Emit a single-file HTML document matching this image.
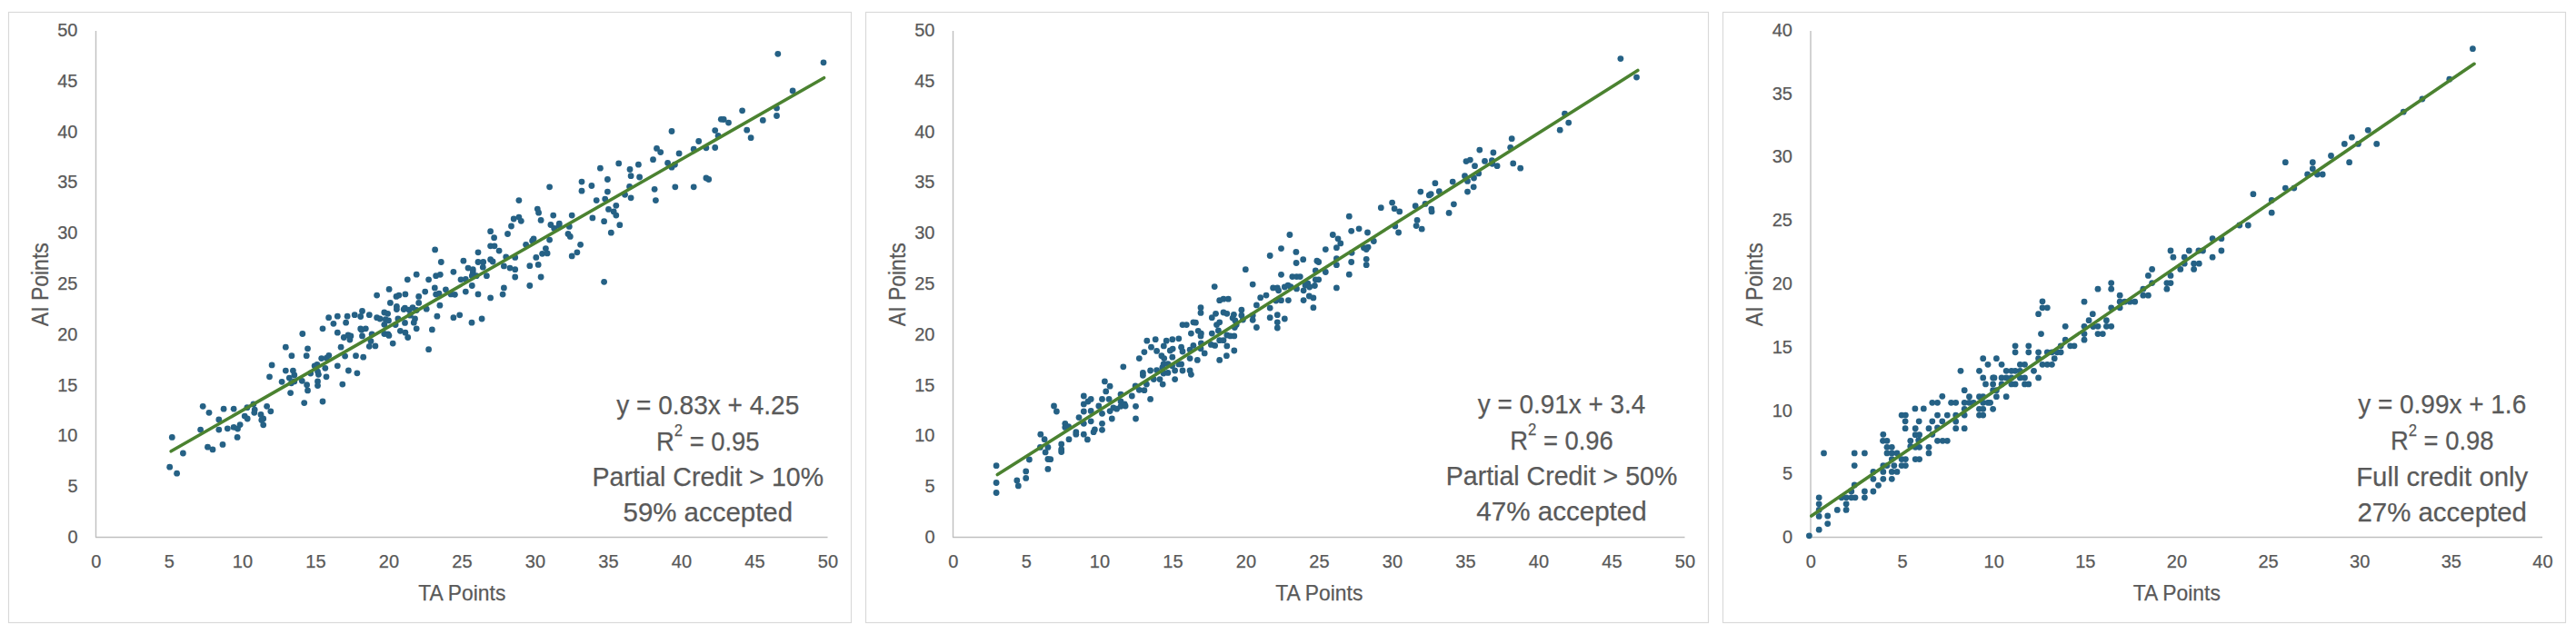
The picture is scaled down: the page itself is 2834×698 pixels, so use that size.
<!DOCTYPE html>
<html lang="en"><head><meta charset="utf-8"><title>AI vs TA Points</title>
<style>html,body{margin:0;padding:0;background:#fff}body{width:2834px;height:698px;overflow:hidden}svg{display:block}text{font-family:"Liberation Sans", sans-serif;fill:#595959;stroke:#595959;stroke-width:.25px}.tk{font-size:20px}.ax{font-size:24px}.ay{font-size:25px}.an{font-size:29.5px}</style></head><body>
<svg width="2834" height="698" viewBox="0 0 2834 698">
<rect width="2834" height="698" fill="#fff"/>
<g>
<rect x="9.5" y="13.5" width="927" height="672" fill="#fff" stroke="#d9d9d9" stroke-width="1.15"/>
<path d="M105.5 34 V591.5 H910.5" fill="none" stroke="#bfbfbf" stroke-width="1.4" stroke-linejoin="round"/>
<text class="tk" x="85.5" y="598" text-anchor="end">0</text>
<text class="tk" x="85.5" y="542.2" text-anchor="end">5</text>
<text class="tk" x="85.5" y="486.4" text-anchor="end">10</text>
<text class="tk" x="85.5" y="430.6" text-anchor="end">15</text>
<text class="tk" x="85.5" y="374.8" text-anchor="end">20</text>
<text class="tk" x="85.5" y="318.9" text-anchor="end">25</text>
<text class="tk" x="85.5" y="263.1" text-anchor="end">30</text>
<text class="tk" x="85.5" y="207.3" text-anchor="end">35</text>
<text class="tk" x="85.5" y="151.5" text-anchor="end">40</text>
<text class="tk" x="85.5" y="95.7" text-anchor="end">45</text>
<text class="tk" x="85.5" y="39.9" text-anchor="end">50</text>
<text class="tk" x="105.9" y="625" text-anchor="middle">0</text>
<text class="tk" x="186.4" y="625" text-anchor="middle">5</text>
<text class="tk" x="266.9" y="625" text-anchor="middle">10</text>
<text class="tk" x="347.4" y="625" text-anchor="middle">15</text>
<text class="tk" x="427.9" y="625" text-anchor="middle">20</text>
<text class="tk" x="508.4" y="625" text-anchor="middle">25</text>
<text class="tk" x="588.9" y="625" text-anchor="middle">30</text>
<text class="tk" x="669.4" y="625" text-anchor="middle">35</text>
<text class="tk" x="749.9" y="625" text-anchor="middle">40</text>
<text class="tk" x="830.4" y="625" text-anchor="middle">45</text>
<text class="tk" x="910.9" y="625" text-anchor="middle">50</text>
<text class="ax" x="508.3" y="661" text-anchor="middle" textLength="96" lengthAdjust="spacingAndGlyphs">TA Points</text>
<text class="ay" transform="translate(52.6 313.2) rotate(-90)" text-anchor="middle" textLength="92" lengthAdjust="spacingAndGlyphs">AI Points</text>
<g fill="#256185">
<circle cx="189.3" cy="481.4" r="3.4"/>
<circle cx="186.7" cy="514.2" r="3.4"/>
<circle cx="194.6" cy="521.2" r="3.4"/>
<circle cx="201.4" cy="499" r="3.4"/>
<circle cx="220.6" cy="473.1" r="3.4"/>
<circle cx="223.2" cy="447.3" r="3.4"/>
<circle cx="230" cy="454.3" r="3.4"/>
<circle cx="228.5" cy="492.2" r="3.4"/>
<circle cx="234" cy="494.9" r="3.4"/>
<circle cx="240.8" cy="461.9" r="3.4"/>
<circle cx="240.8" cy="473.1" r="3.4"/>
<circle cx="245" cy="489.4" r="3.4"/>
<circle cx="246.1" cy="450.2" r="3.4"/>
<circle cx="250.3" cy="471.8" r="3.4"/>
<circle cx="257.1" cy="450.2" r="3.4"/>
<circle cx="257.1" cy="470.4" r="3.4"/>
<circle cx="261.5" cy="472" r="3.4"/>
<circle cx="264.1" cy="467.6" r="3.4"/>
<circle cx="261.1" cy="481.4" r="3.4"/>
<circle cx="269.2" cy="458.1" r="3.4"/>
<circle cx="272.2" cy="461" r="3.4"/>
<circle cx="271.9" cy="448.7" r="3.4"/>
<circle cx="278.9" cy="444.9" r="3.4"/>
<circle cx="280.2" cy="451.1" r="3.4"/>
<circle cx="279.8" cy="454.3" r="3.4"/>
<circle cx="287" cy="456.4" r="3.4"/>
<circle cx="289.7" cy="461" r="3.4"/>
<circle cx="287.8" cy="462.5" r="3.4"/>
<circle cx="289.7" cy="467.8" r="3.4"/>
<circle cx="293.6" cy="447.3" r="3.4"/>
<circle cx="297.8" cy="452.8" r="3.4"/>
<circle cx="296.5" cy="414.8" r="3.4"/>
<circle cx="299.1" cy="401.9" r="3.4"/>
<circle cx="310.1" cy="420.3" r="3.4"/>
<circle cx="314.3" cy="408.1" r="3.4"/>
<circle cx="322.4" cy="408.1" r="3.4"/>
<circle cx="323.8" cy="412.9" r="3.4"/>
<circle cx="318.3" cy="416.1" r="3.4"/>
<circle cx="320.5" cy="421.8" r="3.4"/>
<circle cx="323.8" cy="419.9" r="3.4"/>
<circle cx="319.6" cy="432.6" r="3.4"/>
<circle cx="332.3" cy="419.3" r="3.4"/>
<circle cx="337.6" cy="423.7" r="3.4"/>
<circle cx="338.5" cy="429.9" r="3.4"/>
<circle cx="334.7" cy="443.6" r="3.4"/>
<circle cx="341.7" cy="411" r="3.4"/>
<circle cx="346.1" cy="402.8" r="3.4"/>
<circle cx="348.9" cy="401.5" r="3.4"/>
<circle cx="349.5" cy="409.1" r="3.4"/>
<circle cx="350.4" cy="412.3" r="3.4"/>
<circle cx="349.5" cy="419.9" r="3.4"/>
<circle cx="349.5" cy="424.6" r="3.4"/>
<circle cx="357.8" cy="405.3" r="3.4"/>
<circle cx="359" cy="414.8" r="3.4"/>
<circle cx="355" cy="442" r="3.4"/>
<circle cx="371.3" cy="402.8" r="3.4"/>
<circle cx="376.8" cy="423.1" r="3.4"/>
<circle cx="383.4" cy="408" r="3.4"/>
<circle cx="392.9" cy="410.8" r="3.4"/>
<circle cx="314.3" cy="382.2" r="3.4"/>
<circle cx="320.9" cy="391.7" r="3.4"/>
<circle cx="332.8" cy="367.5" r="3.4"/>
<circle cx="338.5" cy="383.8" r="3.4"/>
<circle cx="337.2" cy="391.7" r="3.4"/>
<circle cx="353.7" cy="394.6" r="3.4"/>
<circle cx="355" cy="361.8" r="3.4"/>
<circle cx="361.6" cy="349.7" r="3.4"/>
<circle cx="361.8" cy="391.3" r="3.4"/>
<circle cx="359.3" cy="394.2" r="3.4"/>
<circle cx="366.9" cy="356.3" r="3.4"/>
<circle cx="371.3" cy="348.2" r="3.4"/>
<circle cx="371.3" cy="366.2" r="3.4"/>
<circle cx="375.1" cy="382.2" r="3.4"/>
<circle cx="378.3" cy="371.5" r="3.4"/>
<circle cx="379.6" cy="392.1" r="3.4"/>
<circle cx="380.6" cy="355.2" r="3.4"/>
<circle cx="382.1" cy="348.2" r="3.4"/>
<circle cx="383" cy="369" r="3.4"/>
<circle cx="385.9" cy="369.9" r="3.4"/>
<circle cx="384.9" cy="374.1" r="3.4"/>
<circle cx="390.2" cy="346.7" r="3.4"/>
<circle cx="391.5" cy="391.7" r="3.4"/>
<circle cx="396.7" cy="348.5" r="3.4"/>
<circle cx="398.5" cy="342.5" r="3.4"/>
<circle cx="396.7" cy="362" r="3.4"/>
<circle cx="397.8" cy="363.3" r="3.4"/>
<circle cx="402.3" cy="361.8" r="3.4"/>
<circle cx="398.5" cy="369.9" r="3.4"/>
<circle cx="399.7" cy="393.2" r="3.4"/>
<circle cx="406.3" cy="346.7" r="3.4"/>
<circle cx="409.1" cy="368" r="3.4"/>
<circle cx="408" cy="375.6" r="3.4"/>
<circle cx="406.3" cy="381.3" r="3.4"/>
<circle cx="412.9" cy="380.9" r="3.4"/>
<circle cx="414.6" cy="325.1" r="3.4"/>
<circle cx="414.6" cy="349.7" r="3.4"/>
<circle cx="418" cy="351" r="3.4"/>
<circle cx="422.8" cy="344" r="3.4"/>
<circle cx="426.6" cy="345.3" r="3.4"/>
<circle cx="424.1" cy="351.6" r="3.4"/>
<circle cx="427.5" cy="352.9" r="3.4"/>
<circle cx="422.8" cy="357.3" r="3.4"/>
<circle cx="422.8" cy="367.5" r="3.4"/>
<circle cx="426.9" cy="368" r="3.4"/>
<circle cx="427.9" cy="369.4" r="3.4"/>
<circle cx="428.1" cy="318.4" r="3.4"/>
<circle cx="429.4" cy="333.4" r="3.4"/>
<circle cx="432.2" cy="378.1" r="3.4"/>
<circle cx="436" cy="326.4" r="3.4"/>
<circle cx="438.9" cy="325.1" r="3.4"/>
<circle cx="436.4" cy="337.4" r="3.4"/>
<circle cx="436.4" cy="340.6" r="3.4"/>
<circle cx="437.9" cy="351" r="3.4"/>
<circle cx="435.1" cy="357.6" r="3.4"/>
<circle cx="440.4" cy="364.3" r="3.4"/>
<circle cx="445.9" cy="323.9" r="3.4"/>
<circle cx="445.5" cy="339.1" r="3.4"/>
<circle cx="444.2" cy="340.6" r="3.4"/>
<circle cx="445.5" cy="355.4" r="3.4"/>
<circle cx="445.9" cy="366.2" r="3.4"/>
<circle cx="448.7" cy="371.5" r="3.4"/>
<circle cx="448.3" cy="307.8" r="3.4"/>
<circle cx="450.2" cy="341.2" r="3.4"/>
<circle cx="454" cy="338.7" r="3.4"/>
<circle cx="451.2" cy="347.2" r="3.4"/>
<circle cx="456.5" cy="351" r="3.4"/>
<circle cx="455.3" cy="355.2" r="3.4"/>
<circle cx="458.2" cy="361.8" r="3.4"/>
<circle cx="458.2" cy="302.2" r="3.4"/>
<circle cx="460.7" cy="326.4" r="3.4"/>
<circle cx="460.7" cy="333.4" r="3.4"/>
<circle cx="458.2" cy="341.5" r="3.4"/>
<circle cx="467.7" cy="321.1" r="3.4"/>
<circle cx="469.2" cy="340.2" r="3.4"/>
<circle cx="471.6" cy="307.8" r="3.4"/>
<circle cx="471.6" cy="384.7" r="3.4"/>
<circle cx="475.4" cy="362.9" r="3.4"/>
<circle cx="478.3" cy="316.9" r="3.4"/>
<circle cx="479.6" cy="303.7" r="3.4"/>
<circle cx="484.3" cy="302.3" r="3.4"/>
<circle cx="485.3" cy="288.5" r="3.4"/>
<circle cx="479.6" cy="324.1" r="3.4"/>
<circle cx="483" cy="323.2" r="3.4"/>
<circle cx="483.9" cy="336.2" r="3.4"/>
<circle cx="480.9" cy="348.2" r="3.4"/>
<circle cx="490.4" cy="318.8" r="3.4"/>
<circle cx="498.9" cy="299.3" r="3.4"/>
<circle cx="496.1" cy="323.9" r="3.4"/>
<circle cx="500.4" cy="324.3" r="3.4"/>
<circle cx="498.9" cy="349.7" r="3.4"/>
<circle cx="505.7" cy="346.8" r="3.4"/>
<circle cx="507" cy="307.8" r="3.4"/>
<circle cx="512.3" cy="307.5" r="3.4"/>
<circle cx="512.3" cy="321.1" r="3.4"/>
<circle cx="509.9" cy="287.2" r="3.4"/>
<circle cx="515" cy="295.1" r="3.4"/>
<circle cx="520.3" cy="296.7" r="3.4"/>
<circle cx="520.3" cy="299.9" r="3.4"/>
<circle cx="519.3" cy="303.7" r="3.4"/>
<circle cx="524.1" cy="303.7" r="3.4"/>
<circle cx="519.3" cy="314.5" r="3.4"/>
<circle cx="519" cy="355.2" r="3.4"/>
<circle cx="526" cy="288.5" r="3.4"/>
<circle cx="526" cy="323.9" r="3.4"/>
<circle cx="531.7" cy="288.5" r="3.4"/>
<circle cx="531.3" cy="294.2" r="3.4"/>
<circle cx="530.1" cy="351" r="3.4"/>
<circle cx="535.4" cy="303.7" r="3.4"/>
<circle cx="539.6" cy="285.7" r="3.4"/>
<circle cx="542.1" cy="288" r="3.4"/>
<circle cx="539.6" cy="327.9" r="3.4"/>
<circle cx="554.4" cy="292.9" r="3.4"/>
<circle cx="554.4" cy="316.9" r="3.4"/>
<circle cx="553.1" cy="324.1" r="3.4"/>
<circle cx="556.7" cy="282.8" r="3.4"/>
<circle cx="561" cy="295.1" r="3.4"/>
<circle cx="566.7" cy="283.4" r="3.4"/>
<circle cx="566.7" cy="296.7" r="3.4"/>
<circle cx="566.7" cy="305" r="3.4"/>
<circle cx="582.8" cy="292.7" r="3.4"/>
<circle cx="582.8" cy="314.5" r="3.4"/>
<circle cx="589.8" cy="283.4" r="3.4"/>
<circle cx="592.2" cy="291.4" r="3.4"/>
<circle cx="595.1" cy="305" r="3.4"/>
<circle cx="629.2" cy="281.9" r="3.4"/>
<circle cx="526" cy="277.8" r="3.4"/>
<circle cx="539.6" cy="254.7" r="3.4"/>
<circle cx="543.6" cy="261.7" r="3.4"/>
<circle cx="539.6" cy="270.8" r="3.4"/>
<circle cx="544" cy="270.8" r="3.4"/>
<circle cx="549.1" cy="276.1" r="3.4"/>
<circle cx="558.5" cy="257.5" r="3.4"/>
<circle cx="562.5" cy="249" r="3.4"/>
<circle cx="565.2" cy="241" r="3.4"/>
<circle cx="570.9" cy="239.1" r="3.4"/>
<circle cx="573.3" cy="243.3" r="3.4"/>
<circle cx="570.9" cy="220.6" r="3.4"/>
<circle cx="578.6" cy="269.3" r="3.4"/>
<circle cx="585.6" cy="265.1" r="3.4"/>
<circle cx="587.1" cy="262.8" r="3.4"/>
<circle cx="591.3" cy="230.1" r="3.4"/>
<circle cx="592.6" cy="234.2" r="3.4"/>
<circle cx="595.1" cy="242.4" r="3.4"/>
<circle cx="600.4" cy="273.6" r="3.4"/>
<circle cx="596.6" cy="279.3" r="3.4"/>
<circle cx="602.1" cy="278.9" r="3.4"/>
<circle cx="604.6" cy="205.8" r="3.4"/>
<circle cx="604.6" cy="264.1" r="3.4"/>
<circle cx="605.9" cy="247.5" r="3.4"/>
<circle cx="608.7" cy="237.1" r="3.4"/>
<circle cx="609.7" cy="251.5" r="3.4"/>
<circle cx="615.3" cy="246.2" r="3.4"/>
<circle cx="615" cy="248.6" r="3.4"/>
<circle cx="625" cy="257.5" r="3.4"/>
<circle cx="627.3" cy="260.4" r="3.4"/>
<circle cx="626.3" cy="249.4" r="3.4"/>
<circle cx="629.2" cy="237.1" r="3.4"/>
<circle cx="634.9" cy="277.8" r="3.4"/>
<circle cx="638.6" cy="269.3" r="3.4"/>
<circle cx="640" cy="200.1" r="3.4"/>
<circle cx="640" cy="210.2" r="3.4"/>
<circle cx="650.9" cy="204.5" r="3.4"/>
<circle cx="651.9" cy="239.9" r="3.4"/>
<circle cx="656.2" cy="220.6" r="3.4"/>
<circle cx="660.4" cy="185.2" r="3.4"/>
<circle cx="664.6" cy="243.7" r="3.4"/>
<circle cx="665.7" cy="219.1" r="3.4"/>
<circle cx="668.4" cy="197.5" r="3.4"/>
<circle cx="668.4" cy="211.1" r="3.4"/>
<circle cx="669.5" cy="230.4" r="3.4"/>
<circle cx="672.3" cy="256.2" r="3.4"/>
<circle cx="675.2" cy="232.9" r="3.4"/>
<circle cx="677.8" cy="226.3" r="3.4"/>
<circle cx="677.8" cy="237.1" r="3.4"/>
<circle cx="680.7" cy="179.9" r="3.4"/>
<circle cx="681.8" cy="247.7" r="3.4"/>
<circle cx="687.5" cy="214.3" r="3.4"/>
<circle cx="693" cy="186.5" r="3.4"/>
<circle cx="694.1" cy="193.7" r="3.4"/>
<circle cx="692.6" cy="205.4" r="3.4"/>
<circle cx="694.1" cy="217.8" r="3.4"/>
<circle cx="702.4" cy="181.2" r="3.4"/>
<circle cx="703.6" cy="195" r="3.4"/>
<circle cx="718.5" cy="175.7" r="3.4"/>
<circle cx="720.1" cy="208.3" r="3.4"/>
<circle cx="721.4" cy="220.6" r="3.4"/>
<circle cx="722.5" cy="163.4" r="3.4"/>
<circle cx="726.7" cy="167.6" r="3.4"/>
<circle cx="734.6" cy="179.5" r="3.4"/>
<circle cx="739" cy="184.2" r="3.4"/>
<circle cx="742.4" cy="181.2" r="3.4"/>
<circle cx="742.8" cy="205.8" r="3.4"/>
<circle cx="747.1" cy="168.9" r="3.4"/>
<circle cx="763.2" cy="164.2" r="3.4"/>
<circle cx="763.2" cy="205.8" r="3.4"/>
<circle cx="776.9" cy="162.8" r="3.4"/>
<circle cx="776.9" cy="196" r="3.4"/>
<circle cx="779.7" cy="197.5" r="3.4"/>
<circle cx="786.7" cy="162.5" r="3.4"/>
<circle cx="739" cy="144.5" r="3.4"/>
<circle cx="768.7" cy="155.5" r="3.4"/>
<circle cx="786.7" cy="143.6" r="3.4"/>
<circle cx="790.1" cy="149.4" r="3.4"/>
<circle cx="793.3" cy="131.3" r="3.4"/>
<circle cx="796.2" cy="131.5" r="3.4"/>
<circle cx="801.5" cy="135.1" r="3.4"/>
<circle cx="855.8" cy="59.3" r="3.4"/>
<circle cx="906" cy="68.8" r="3.4"/>
<circle cx="872.1" cy="100" r="3.4"/>
<circle cx="854.5" cy="119.1" r="3.4"/>
<circle cx="854.5" cy="127.5" r="3.4"/>
<circle cx="816.6" cy="121.8" r="3.4"/>
<circle cx="839.3" cy="132.4" r="3.4"/>
<circle cx="821.7" cy="143.2" r="3.4"/>
<circle cx="826.1" cy="151.7" r="3.4"/>
<circle cx="664.6" cy="310.3" r="3.4"/>
<circle cx="478.6" cy="274.9" r="3.4"/>
</g>
<line x1="188.2" y1="496.8" x2="906.5" y2="85.7" stroke="#4b8230" stroke-width="3.6" stroke-linecap="round"/>
<text class="an" x="778.8" y="455.7" text-anchor="middle" textLength="201" lengthAdjust="spacingAndGlyphs">y = 0.83x + 4.25</text>
<text class="an" x="778.8" y="495.7" text-anchor="middle" textLength="113.5" lengthAdjust="spacingAndGlyphs">R<tspan font-size="18" dy="-15.5">2</tspan><tspan dy="15.5"> = 0.95</tspan></text>
<text class="an" x="778.8" y="534.8" text-anchor="middle" textLength="254.5" lengthAdjust="spacingAndGlyphs">Partial Credit &gt; 10%</text>
<text class="an" x="778.8" y="573.9" text-anchor="middle" textLength="186.5" lengthAdjust="spacingAndGlyphs">59% accepted</text>
</g>
<g>
<rect x="952.5" y="13.5" width="927" height="672" fill="#fff" stroke="#d9d9d9" stroke-width="1.15"/>
<path d="M1048.5 34 V591.5 H1853.5" fill="none" stroke="#bfbfbf" stroke-width="1.4" stroke-linejoin="round"/>
<text class="tk" x="1028.5" y="598" text-anchor="end">0</text>
<text class="tk" x="1028.5" y="542.2" text-anchor="end">5</text>
<text class="tk" x="1028.5" y="486.4" text-anchor="end">10</text>
<text class="tk" x="1028.5" y="430.6" text-anchor="end">15</text>
<text class="tk" x="1028.5" y="374.8" text-anchor="end">20</text>
<text class="tk" x="1028.5" y="318.9" text-anchor="end">25</text>
<text class="tk" x="1028.5" y="263.1" text-anchor="end">30</text>
<text class="tk" x="1028.5" y="207.3" text-anchor="end">35</text>
<text class="tk" x="1028.5" y="151.5" text-anchor="end">40</text>
<text class="tk" x="1028.5" y="95.7" text-anchor="end">45</text>
<text class="tk" x="1028.5" y="39.9" text-anchor="end">50</text>
<text class="tk" x="1048.9" y="625" text-anchor="middle">0</text>
<text class="tk" x="1129.4" y="625" text-anchor="middle">5</text>
<text class="tk" x="1209.9" y="625" text-anchor="middle">10</text>
<text class="tk" x="1290.4" y="625" text-anchor="middle">15</text>
<text class="tk" x="1370.9" y="625" text-anchor="middle">20</text>
<text class="tk" x="1451.4" y="625" text-anchor="middle">25</text>
<text class="tk" x="1531.9" y="625" text-anchor="middle">30</text>
<text class="tk" x="1612.4" y="625" text-anchor="middle">35</text>
<text class="tk" x="1692.9" y="625" text-anchor="middle">40</text>
<text class="tk" x="1773.4" y="625" text-anchor="middle">45</text>
<text class="tk" x="1853.9" y="625" text-anchor="middle">50</text>
<text class="ax" x="1451.3" y="661" text-anchor="middle" textLength="96" lengthAdjust="spacingAndGlyphs">TA Points</text>
<text class="ay" transform="translate(995.6 313.2) rotate(-90)" text-anchor="middle" textLength="92" lengthAdjust="spacingAndGlyphs">AI Points</text>
<g fill="#256185">
<circle cx="1096.1" cy="512.7" r="3.4"/>
<circle cx="1128.7" cy="518.9" r="3.4"/>
<circle cx="1132.4" cy="506" r="3.4"/>
<circle cx="1144.8" cy="478.2" r="3.4"/>
<circle cx="1149.1" cy="483.7" r="3.4"/>
<circle cx="1144.4" cy="492.4" r="3.4"/>
<circle cx="1152.9" cy="492.4" r="3.4"/>
<circle cx="1150.1" cy="497.9" r="3.4"/>
<circle cx="1152.9" cy="505.5" r="3.4"/>
<circle cx="1155.7" cy="505.7" r="3.4"/>
<circle cx="1152.9" cy="516.4" r="3.4"/>
<circle cx="1159.5" cy="447" r="3.4"/>
<circle cx="1162.4" cy="453" r="3.4"/>
<circle cx="1167.7" cy="489" r="3.4"/>
<circle cx="1167.7" cy="494.7" r="3.4"/>
<circle cx="1167.7" cy="497.5" r="3.4"/>
<circle cx="1171.8" cy="466.3" r="3.4"/>
<circle cx="1171.8" cy="470.4" r="3.4"/>
<circle cx="1175.6" cy="469.7" r="3.4"/>
<circle cx="1176" cy="483.7" r="3.4"/>
<circle cx="1183.8" cy="475.7" r="3.4"/>
<circle cx="1183.8" cy="478.2" r="3.4"/>
<circle cx="1187" cy="459.6" r="3.4"/>
<circle cx="1192.3" cy="436" r="3.4"/>
<circle cx="1192.3" cy="444.9" r="3.4"/>
<circle cx="1192.3" cy="453" r="3.4"/>
<circle cx="1192.3" cy="466.3" r="3.4"/>
<circle cx="1192.3" cy="478.2" r="3.4"/>
<circle cx="1196.4" cy="483.9" r="3.4"/>
<circle cx="1197" cy="442" r="3.4"/>
<circle cx="1200.2" cy="439.4" r="3.4"/>
<circle cx="1200.2" cy="452.4" r="3.4"/>
<circle cx="1200.2" cy="463.8" r="3.4"/>
<circle cx="1204.4" cy="472.9" r="3.4"/>
<circle cx="1203.1" cy="475.7" r="3.4"/>
<circle cx="1208.8" cy="447" r="3.4"/>
<circle cx="1212.5" cy="439.4" r="3.4"/>
<circle cx="1212.5" cy="455.3" r="3.4"/>
<circle cx="1212.5" cy="466.3" r="3.4"/>
<circle cx="1212.5" cy="473.3" r="3.4"/>
<circle cx="1215.4" cy="419.9" r="3.4"/>
<circle cx="1216.7" cy="430.9" r="3.4"/>
<circle cx="1221.1" cy="425.2" r="3.4"/>
<circle cx="1220.1" cy="439.4" r="3.4"/>
<circle cx="1221.1" cy="452.6" r="3.4"/>
<circle cx="1223.3" cy="461" r="3.4"/>
<circle cx="1224.9" cy="448.9" r="3.4"/>
<circle cx="1228.6" cy="450.2" r="3.4"/>
<circle cx="1233" cy="434.1" r="3.4"/>
<circle cx="1233" cy="442" r="3.4"/>
<circle cx="1233" cy="447.3" r="3.4"/>
<circle cx="1237.2" cy="444.9" r="3.4"/>
<circle cx="1235.8" cy="403.8" r="3.4"/>
<circle cx="1238.1" cy="447" r="3.4"/>
<circle cx="1096.1" cy="531.5" r="3.4"/>
<circle cx="1096.1" cy="542.5" r="3.4"/>
<circle cx="1118.8" cy="528.9" r="3.4"/>
<circle cx="1120.3" cy="534.9" r="3.4"/>
<circle cx="1128.7" cy="526.4" r="3.4"/>
<circle cx="1245.3" cy="436" r="3.4"/>
<circle cx="1249.5" cy="447.3" r="3.4"/>
<circle cx="1249.5" cy="461" r="3.4"/>
<circle cx="1249.1" cy="425" r="3.4"/>
<circle cx="1253.3" cy="429.3" r="3.4"/>
<circle cx="1258.9" cy="429.7" r="3.4"/>
<circle cx="1257.4" cy="410.4" r="3.4"/>
<circle cx="1257.4" cy="413.3" r="3.4"/>
<circle cx="1261.4" cy="423.1" r="3.4"/>
<circle cx="1265.6" cy="439.4" r="3.4"/>
<circle cx="1265.6" cy="408" r="3.4"/>
<circle cx="1269.3" cy="417.6" r="3.4"/>
<circle cx="1272.6" cy="407.6" r="3.4"/>
<circle cx="1276" cy="417.6" r="3.4"/>
<circle cx="1279.2" cy="423.1" r="3.4"/>
<circle cx="1278.8" cy="404.7" r="3.4"/>
<circle cx="1280.1" cy="411" r="3.4"/>
<circle cx="1284.9" cy="410.4" r="3.4"/>
<circle cx="1280.1" cy="400.9" r="3.4"/>
<circle cx="1284.9" cy="400.6" r="3.4"/>
<circle cx="1289.6" cy="402.8" r="3.4"/>
<circle cx="1292.6" cy="408" r="3.4"/>
<circle cx="1292.6" cy="417.6" r="3.4"/>
<circle cx="1296.8" cy="400.9" r="3.4"/>
<circle cx="1299.6" cy="400.9" r="3.4"/>
<circle cx="1301" cy="408" r="3.4"/>
<circle cx="1309.1" cy="408" r="3.4"/>
<circle cx="1310.4" cy="412.3" r="3.4"/>
<circle cx="1253.3" cy="394.6" r="3.4"/>
<circle cx="1258.9" cy="387.6" r="3.4"/>
<circle cx="1261.8" cy="375.2" r="3.4"/>
<circle cx="1266.5" cy="382.2" r="3.4"/>
<circle cx="1271.2" cy="373.7" r="3.4"/>
<circle cx="1272.6" cy="386.4" r="3.4"/>
<circle cx="1277.9" cy="391.7" r="3.4"/>
<circle cx="1280.7" cy="394.6" r="3.4"/>
<circle cx="1280.3" cy="380.9" r="3.4"/>
<circle cx="1283.2" cy="375.2" r="3.4"/>
<circle cx="1287.3" cy="386" r="3.4"/>
<circle cx="1290.2" cy="384.1" r="3.4"/>
<circle cx="1289.8" cy="373.7" r="3.4"/>
<circle cx="1289.8" cy="393.2" r="3.4"/>
<circle cx="1296.8" cy="372.8" r="3.4"/>
<circle cx="1299.6" cy="382.2" r="3.4"/>
<circle cx="1301" cy="387" r="3.4"/>
<circle cx="1301" cy="357.6" r="3.4"/>
<circle cx="1305.3" cy="357.6" r="3.4"/>
<circle cx="1309.1" cy="385.1" r="3.4"/>
<circle cx="1309.1" cy="394.6" r="3.4"/>
<circle cx="1310.4" cy="367.1" r="3.4"/>
<circle cx="1312.9" cy="354.8" r="3.4"/>
<circle cx="1315.4" cy="355.2" r="3.4"/>
<circle cx="1312.9" cy="380.4" r="3.4"/>
<circle cx="1317.3" cy="396.4" r="3.4"/>
<circle cx="1318.2" cy="364.3" r="3.4"/>
<circle cx="1321.4" cy="367.1" r="3.4"/>
<circle cx="1321" cy="369.9" r="3.4"/>
<circle cx="1321.4" cy="377.9" r="3.4"/>
<circle cx="1321" cy="383.8" r="3.4"/>
<circle cx="1325.2" cy="388.9" r="3.4"/>
<circle cx="1321" cy="338.7" r="3.4"/>
<circle cx="1321" cy="344.4" r="3.4"/>
<circle cx="1333.3" cy="349.7" r="3.4"/>
<circle cx="1333.3" cy="367.1" r="3.4"/>
<circle cx="1332.4" cy="379.4" r="3.4"/>
<circle cx="1336.2" cy="315.6" r="3.4"/>
<circle cx="1337.5" cy="345.3" r="3.4"/>
<circle cx="1336.6" cy="380.4" r="3.4"/>
<circle cx="1338.5" cy="357.6" r="3.4"/>
<circle cx="1341.7" cy="354.8" r="3.4"/>
<circle cx="1340.4" cy="363.9" r="3.4"/>
<circle cx="1341.7" cy="330.7" r="3.4"/>
<circle cx="1346" cy="329.2" r="3.4"/>
<circle cx="1351.3" cy="329.2" r="3.4"/>
<circle cx="1341.7" cy="374.7" r="3.4"/>
<circle cx="1346" cy="374.7" r="3.4"/>
<circle cx="1341.7" cy="396.4" r="3.4"/>
<circle cx="1346" cy="344" r="3.4"/>
<circle cx="1349.8" cy="345.3" r="3.4"/>
<circle cx="1349.8" cy="369" r="3.4"/>
<circle cx="1349.8" cy="380.9" r="3.4"/>
<circle cx="1349.4" cy="391.7" r="3.4"/>
<circle cx="1353.6" cy="369.9" r="3.4"/>
<circle cx="1357.8" cy="369.9" r="3.4"/>
<circle cx="1357.8" cy="386" r="3.4"/>
<circle cx="1357.4" cy="346.3" r="3.4"/>
<circle cx="1356.1" cy="350.1" r="3.4"/>
<circle cx="1358.9" cy="352.9" r="3.4"/>
<circle cx="1360.2" cy="357.6" r="3.4"/>
<circle cx="1358.3" cy="360.5" r="3.4"/>
<circle cx="1365.9" cy="341.2" r="3.4"/>
<circle cx="1365.9" cy="347.2" r="3.4"/>
<circle cx="1367.4" cy="352" r="3.4"/>
<circle cx="1370.3" cy="296.7" r="3.4"/>
<circle cx="1378.2" cy="313.1" r="3.4"/>
<circle cx="1378.2" cy="347.2" r="3.4"/>
<circle cx="1378.2" cy="352.3" r="3.4"/>
<circle cx="1382.4" cy="360.5" r="3.4"/>
<circle cx="1382.4" cy="335.9" r="3.4"/>
<circle cx="1386.7" cy="327.7" r="3.4"/>
<circle cx="1393" cy="325.1" r="3.4"/>
<circle cx="1397.2" cy="339.1" r="3.4"/>
<circle cx="1397.2" cy="349.7" r="3.4"/>
<circle cx="1397.2" cy="281.5" r="3.4"/>
<circle cx="1400.6" cy="316.9" r="3.4"/>
<circle cx="1405.3" cy="316.9" r="3.4"/>
<circle cx="1406.6" cy="319.8" r="3.4"/>
<circle cx="1403.8" cy="331.1" r="3.4"/>
<circle cx="1409.5" cy="330.7" r="3.4"/>
<circle cx="1405.3" cy="346.7" r="3.4"/>
<circle cx="1405.3" cy="354.8" r="3.4"/>
<circle cx="1405.3" cy="361" r="3.4"/>
<circle cx="1413.3" cy="351" r="3.4"/>
<circle cx="1409.5" cy="302.3" r="3.4"/>
<circle cx="1413.3" cy="316" r="3.4"/>
<circle cx="1417" cy="314.1" r="3.4"/>
<circle cx="1419.9" cy="315.6" r="3.4"/>
<circle cx="1417.4" cy="330.6" r="3.4"/>
<circle cx="1421.8" cy="304.6" r="3.4"/>
<circle cx="1426.5" cy="304.6" r="3.4"/>
<circle cx="1430.3" cy="304.6" r="3.4"/>
<circle cx="1426.1" cy="289.5" r="3.4"/>
<circle cx="1426.5" cy="317.9" r="3.4"/>
<circle cx="1433.7" cy="285.7" r="3.4"/>
<circle cx="1434.1" cy="319.8" r="3.4"/>
<circle cx="1436" cy="314.1" r="3.4"/>
<circle cx="1438.8" cy="312.2" r="3.4"/>
<circle cx="1434.1" cy="330.6" r="3.4"/>
<circle cx="1440.7" cy="316" r="3.4"/>
<circle cx="1440.3" cy="326" r="3.4"/>
<circle cx="1444.9" cy="327.9" r="3.4"/>
<circle cx="1444.9" cy="338.7" r="3.4"/>
<circle cx="1446.4" cy="314.5" r="3.4"/>
<circle cx="1447.3" cy="298" r="3.4"/>
<circle cx="1447.3" cy="307.8" r="3.4"/>
<circle cx="1450.7" cy="307.8" r="3.4"/>
<circle cx="1448.9" cy="287.2" r="3.4"/>
<circle cx="1450.7" cy="288.5" r="3.4"/>
<circle cx="1458.3" cy="299.5" r="3.4"/>
<circle cx="1470.4" cy="284.7" r="3.4"/>
<circle cx="1470.4" cy="291.7" r="3.4"/>
<circle cx="1470.4" cy="316.9" r="3.4"/>
<circle cx="1484.3" cy="302.2" r="3.4"/>
<circle cx="1486.7" cy="288.5" r="3.4"/>
<circle cx="1503.2" cy="285.3" r="3.4"/>
<circle cx="1503.2" cy="291.7" r="3.4"/>
<circle cx="1409.5" cy="273.6" r="3.4"/>
<circle cx="1418.9" cy="258.5" r="3.4"/>
<circle cx="1425.9" cy="277.4" r="3.4"/>
<circle cx="1458.3" cy="274.6" r="3.4"/>
<circle cx="1466.3" cy="258.5" r="3.4"/>
<circle cx="1472" cy="262.8" r="3.4"/>
<circle cx="1474.8" cy="267.9" r="3.4"/>
<circle cx="1470.4" cy="272.7" r="3.4"/>
<circle cx="1484.3" cy="238.2" r="3.4"/>
<circle cx="1486.7" cy="254.3" r="3.4"/>
<circle cx="1487.1" cy="278.3" r="3.4"/>
<circle cx="1495.1" cy="251.8" r="3.4"/>
<circle cx="1504.5" cy="256" r="3.4"/>
<circle cx="1500.4" cy="272.7" r="3.4"/>
<circle cx="1505.1" cy="272.1" r="3.4"/>
<circle cx="1503.2" cy="274.6" r="3.4"/>
<circle cx="1511.3" cy="265.5" r="3.4"/>
<circle cx="1519.3" cy="228.7" r="3.4"/>
<circle cx="1531.6" cy="223.1" r="3.4"/>
<circle cx="1534.1" cy="229.7" r="3.4"/>
<circle cx="1539.7" cy="232.9" r="3.4"/>
<circle cx="1534.8" cy="249" r="3.4"/>
<circle cx="1538.6" cy="256" r="3.4"/>
<circle cx="1557.2" cy="226.7" r="3.4"/>
<circle cx="1559.1" cy="242.4" r="3.4"/>
<circle cx="1558.1" cy="248.6" r="3.4"/>
<circle cx="1562.8" cy="211.1" r="3.4"/>
<circle cx="1564.2" cy="252.2" r="3.4"/>
<circle cx="1568" cy="224.4" r="3.4"/>
<circle cx="1572.3" cy="214.9" r="3.4"/>
<circle cx="1574.2" cy="213.6" r="3.4"/>
<circle cx="1574.8" cy="230.1" r="3.4"/>
<circle cx="1575.1" cy="232.9" r="3.4"/>
<circle cx="1578.9" cy="201.7" r="3.4"/>
<circle cx="1583.3" cy="210.7" r="3.4"/>
<circle cx="1594.1" cy="234.4" r="3.4"/>
<circle cx="1598.2" cy="200.1" r="3.4"/>
<circle cx="1599.4" cy="224.8" r="3.4"/>
<circle cx="1611.5" cy="193.7" r="3.4"/>
<circle cx="1614.5" cy="199.4" r="3.4"/>
<circle cx="1614.5" cy="211.1" r="3.4"/>
<circle cx="1613" cy="177.6" r="3.4"/>
<circle cx="1617.4" cy="176.1" r="3.4"/>
<circle cx="1621.5" cy="196" r="3.4"/>
<circle cx="1621.2" cy="205.8" r="3.4"/>
<circle cx="1622.5" cy="182.7" r="3.4"/>
<circle cx="1626.7" cy="190.9" r="3.4"/>
<circle cx="1627.8" cy="165.1" r="3.4"/>
<circle cx="1633.5" cy="177.4" r="3.4"/>
<circle cx="1641.4" cy="176.7" r="3.4"/>
<circle cx="1641.8" cy="180.3" r="3.4"/>
<circle cx="1642.9" cy="168" r="3.4"/>
<circle cx="1647.1" cy="182.7" r="3.4"/>
<circle cx="1661.7" cy="162.3" r="3.4"/>
<circle cx="1664.7" cy="179.9" r="3.4"/>
<circle cx="1672.7" cy="185.2" r="3.4"/>
<circle cx="1663.2" cy="152.7" r="3.4"/>
<circle cx="1716.2" cy="143.2" r="3.4"/>
<circle cx="1782.9" cy="64.6" r="3.4"/>
<circle cx="1800.5" cy="85.1" r="3.4"/>
<circle cx="1721.5" cy="125.2" r="3.4"/>
<circle cx="1725.7" cy="135.1" r="3.4"/>
</g>
<line x1="1097.3" y1="522.5" x2="1801.8" y2="77.5" stroke="#4b8230" stroke-width="3.6" stroke-linecap="round"/>
<text class="an" x="1718" y="454.9" text-anchor="middle" textLength="184.5" lengthAdjust="spacingAndGlyphs">y = 0.91x + 3.4</text>
<text class="an" x="1718" y="494.9" text-anchor="middle" textLength="113.5" lengthAdjust="spacingAndGlyphs">R<tspan font-size="18" dy="-15.5">2</tspan><tspan dy="15.5"> = 0.96</tspan></text>
<text class="an" x="1718" y="534" text-anchor="middle" textLength="254.5" lengthAdjust="spacingAndGlyphs">Partial Credit &gt; 50%</text>
<text class="an" x="1718" y="573.1" text-anchor="middle" textLength="187.5" lengthAdjust="spacingAndGlyphs">47% accepted</text>
</g>
<g>
<rect x="1895.5" y="13.5" width="927" height="672" fill="#fff" stroke="#d9d9d9" stroke-width="1.15"/>
<path d="M1992 34 V591.5 H2797" fill="none" stroke="#bfbfbf" stroke-width="1.4" stroke-linejoin="round"/>
<text class="tk" x="1972" y="598" text-anchor="end">0</text>
<text class="tk" x="1972" y="528.2" text-anchor="end">5</text>
<text class="tk" x="1972" y="458.5" text-anchor="end">10</text>
<text class="tk" x="1972" y="388.7" text-anchor="end">15</text>
<text class="tk" x="1972" y="318.9" text-anchor="end">20</text>
<text class="tk" x="1972" y="249.2" text-anchor="end">25</text>
<text class="tk" x="1972" y="179.4" text-anchor="end">30</text>
<text class="tk" x="1972" y="109.7" text-anchor="end">35</text>
<text class="tk" x="1972" y="39.9" text-anchor="end">40</text>
<text class="tk" x="1992.4" y="625" text-anchor="middle">0</text>
<text class="tk" x="2093" y="625" text-anchor="middle">5</text>
<text class="tk" x="2193.7" y="625" text-anchor="middle">10</text>
<text class="tk" x="2294.3" y="625" text-anchor="middle">15</text>
<text class="tk" x="2394.9" y="625" text-anchor="middle">20</text>
<text class="tk" x="2495.5" y="625" text-anchor="middle">25</text>
<text class="tk" x="2596.2" y="625" text-anchor="middle">30</text>
<text class="tk" x="2696.8" y="625" text-anchor="middle">35</text>
<text class="tk" x="2797.4" y="625" text-anchor="middle">40</text>
<text class="ax" x="2394.8" y="661" text-anchor="middle" textLength="96" lengthAdjust="spacingAndGlyphs">TA Points</text>
<text class="ay" transform="translate(1938.6 313.2) rotate(-90)" text-anchor="middle" textLength="92" lengthAdjust="spacingAndGlyphs">AI Points</text>
<g fill="#256185">
<circle cx="1990.4" cy="589.8" r="3.4"/>
<circle cx="2001.2" cy="583.2" r="3.4"/>
<circle cx="2001.2" cy="568.4" r="3.4"/>
<circle cx="2001.2" cy="561.4" r="3.4"/>
<circle cx="2001.2" cy="554.8" r="3.4"/>
<circle cx="2001.2" cy="547.8" r="3.4"/>
<circle cx="2006.5" cy="498.9" r="3.4"/>
<circle cx="2010.7" cy="568" r="3.4"/>
<circle cx="2010.7" cy="576.6" r="3.4"/>
<circle cx="2021.3" cy="561.4" r="3.4"/>
<circle cx="2026" cy="547.8" r="3.4"/>
<circle cx="2031.1" cy="547.8" r="3.4"/>
<circle cx="2031.1" cy="554.8" r="3.4"/>
<circle cx="2031.1" cy="561.4" r="3.4"/>
<circle cx="2036.8" cy="541" r="3.4"/>
<circle cx="2036.8" cy="547.8" r="3.4"/>
<circle cx="2041" cy="547.8" r="3.4"/>
<circle cx="2040.2" cy="534" r="3.4"/>
<circle cx="2040.2" cy="512.6" r="3.4"/>
<circle cx="2040.2" cy="498.9" r="3.4"/>
<circle cx="2051.4" cy="498.9" r="3.4"/>
<circle cx="2051.4" cy="541" r="3.4"/>
<circle cx="2051.4" cy="547.8" r="3.4"/>
<circle cx="2060.9" cy="519.4" r="3.4"/>
<circle cx="2060.9" cy="527.3" r="3.4"/>
<circle cx="2060.9" cy="541" r="3.4"/>
<circle cx="2066.5" cy="534.3" r="3.4"/>
<circle cx="2071.8" cy="512.6" r="3.4"/>
<circle cx="2071.8" cy="519.4" r="3.4"/>
<circle cx="2071.8" cy="527.3" r="3.4"/>
<circle cx="2071.5" cy="485.3" r="3.4"/>
<circle cx="2076" cy="485.3" r="3.4"/>
<circle cx="2076" cy="492.3" r="3.4"/>
<circle cx="2076" cy="498.9" r="3.4"/>
<circle cx="2076" cy="512.6" r="3.4"/>
<circle cx="2081.3" cy="492.3" r="3.4"/>
<circle cx="2081.3" cy="498.9" r="3.4"/>
<circle cx="2081.3" cy="505.6" r="3.4"/>
<circle cx="2081.3" cy="519.4" r="3.4"/>
<circle cx="2081.3" cy="527.3" r="3.4"/>
<circle cx="2083.8" cy="512.6" r="3.4"/>
<circle cx="2087" cy="498.9" r="3.4"/>
<circle cx="2087" cy="519.4" r="3.4"/>
<circle cx="2092.1" cy="505.6" r="3.4"/>
<circle cx="2092.1" cy="512.6" r="3.4"/>
<circle cx="2096.4" cy="505.6" r="3.4"/>
<circle cx="2096.4" cy="512.6" r="3.4"/>
<circle cx="2101.8" cy="485.3" r="3.4"/>
<circle cx="2101.8" cy="491.4" r="3.4"/>
<circle cx="2107.2" cy="505.6" r="3.4"/>
<circle cx="2111.6" cy="505.6" r="3.4"/>
<circle cx="2107.2" cy="492.3" r="3.4"/>
<circle cx="2111.6" cy="492.3" r="3.4"/>
<circle cx="2110.7" cy="484.7" r="3.4"/>
<circle cx="2122" cy="492.3" r="3.4"/>
<circle cx="2122" cy="498.9" r="3.4"/>
<circle cx="2131.5" cy="485.3" r="3.4"/>
<circle cx="2137.2" cy="485.3" r="3.4"/>
<circle cx="2071.8" cy="478.3" r="3.4"/>
<circle cx="2092.1" cy="457.1" r="3.4"/>
<circle cx="2096.4" cy="457.1" r="3.4"/>
<circle cx="2096.1" cy="463.8" r="3.4"/>
<circle cx="2096.1" cy="471.7" r="3.4"/>
<circle cx="2106.9" cy="449.9" r="3.4"/>
<circle cx="2107.2" cy="471.7" r="3.4"/>
<circle cx="2107.2" cy="478.7" r="3.4"/>
<circle cx="2111.6" cy="478.7" r="3.4"/>
<circle cx="2111.2" cy="463.8" r="3.4"/>
<circle cx="2116.3" cy="449.9" r="3.4"/>
<circle cx="2122" cy="471.7" r="3.4"/>
<circle cx="2125.8" cy="463.8" r="3.4"/>
<circle cx="2125.8" cy="478.3" r="3.4"/>
<circle cx="2125.8" cy="443.3" r="3.4"/>
<circle cx="2131.5" cy="443.3" r="3.4"/>
<circle cx="2131.5" cy="457.1" r="3.4"/>
<circle cx="2131.5" cy="470.8" r="3.4"/>
<circle cx="2136.8" cy="436.3" r="3.4"/>
<circle cx="2136.8" cy="463.8" r="3.4"/>
<circle cx="2142.3" cy="457.1" r="3.4"/>
<circle cx="2146.6" cy="443.3" r="3.4"/>
<circle cx="2151.7" cy="443.3" r="3.4"/>
<circle cx="2151.7" cy="457.1" r="3.4"/>
<circle cx="2151.7" cy="464.1" r="3.4"/>
<circle cx="2151.7" cy="471.7" r="3.4"/>
<circle cx="2157" cy="408.3" r="3.4"/>
<circle cx="2161.2" cy="429.7" r="3.4"/>
<circle cx="2161.2" cy="443.3" r="3.4"/>
<circle cx="2161.2" cy="450.3" r="3.4"/>
<circle cx="2161.2" cy="457.1" r="3.4"/>
<circle cx="2161.2" cy="471.7" r="3.4"/>
<circle cx="2166.5" cy="436.7" r="3.4"/>
<circle cx="2166.5" cy="443.3" r="3.4"/>
<circle cx="2171.2" cy="443.3" r="3.4"/>
<circle cx="2177.5" cy="408.3" r="3.4"/>
<circle cx="2177.5" cy="436.7" r="3.4"/>
<circle cx="2177.5" cy="450.3" r="3.4"/>
<circle cx="2177.5" cy="457.1" r="3.4"/>
<circle cx="2181.7" cy="394.7" r="3.4"/>
<circle cx="2181.7" cy="415.9" r="3.4"/>
<circle cx="2181.7" cy="436.7" r="3.4"/>
<circle cx="2181.7" cy="443.3" r="3.4"/>
<circle cx="2181.7" cy="450.3" r="3.4"/>
<circle cx="2181.7" cy="457.1" r="3.4"/>
<circle cx="2184.5" cy="422.9" r="3.4"/>
<circle cx="2187" cy="401.3" r="3.4"/>
<circle cx="2187" cy="443.3" r="3.4"/>
<circle cx="2189.6" cy="443.3" r="3.4"/>
<circle cx="2192.6" cy="415.9" r="3.4"/>
<circle cx="2194" cy="415.9" r="3.4"/>
<circle cx="2192.6" cy="422.9" r="3.4"/>
<circle cx="2192.6" cy="429.7" r="3.4"/>
<circle cx="2192.6" cy="450.3" r="3.4"/>
<circle cx="2196.4" cy="394.7" r="3.4"/>
<circle cx="2196.4" cy="429.7" r="3.4"/>
<circle cx="2196.4" cy="436.7" r="3.4"/>
<circle cx="2202.1" cy="401.3" r="3.4"/>
<circle cx="2202.1" cy="415.9" r="3.4"/>
<circle cx="2202.1" cy="422.9" r="3.4"/>
<circle cx="2207.2" cy="408.3" r="3.4"/>
<circle cx="2207.2" cy="415.9" r="3.4"/>
<circle cx="2207.2" cy="436.7" r="3.4"/>
<circle cx="2212.9" cy="408.3" r="3.4"/>
<circle cx="2212.9" cy="415.9" r="3.4"/>
<circle cx="2212.9" cy="422.9" r="3.4"/>
<circle cx="2217.1" cy="380.8" r="3.4"/>
<circle cx="2217.1" cy="387.8" r="3.4"/>
<circle cx="2217.1" cy="408.3" r="3.4"/>
<circle cx="2217.1" cy="422.9" r="3.4"/>
<circle cx="2222.4" cy="401.3" r="3.4"/>
<circle cx="2222.4" cy="408.3" r="3.4"/>
<circle cx="2222.4" cy="415.9" r="3.4"/>
<circle cx="2227.5" cy="401.3" r="3.4"/>
<circle cx="2227.5" cy="415.9" r="3.4"/>
<circle cx="2227.5" cy="422.9" r="3.4"/>
<circle cx="2231.8" cy="380.8" r="3.4"/>
<circle cx="2231.8" cy="387.8" r="3.4"/>
<circle cx="2231.8" cy="422.9" r="3.4"/>
<circle cx="2237.5" cy="408.3" r="3.4"/>
<circle cx="2242.6" cy="387.8" r="3.4"/>
<circle cx="2242.6" cy="394.7" r="3.4"/>
<circle cx="2242.6" cy="415.9" r="3.4"/>
<circle cx="2247" cy="401.3" r="3.4"/>
<circle cx="2245.5" cy="367.6" r="3.4"/>
<circle cx="2252.3" cy="401.3" r="3.4"/>
<circle cx="2252.3" cy="387.8" r="3.4"/>
<circle cx="2257.4" cy="401.3" r="3.4"/>
<circle cx="2257.4" cy="387.8" r="3.4"/>
<circle cx="2260.2" cy="394.7" r="3.4"/>
<circle cx="2263.1" cy="387.8" r="3.4"/>
<circle cx="2267.2" cy="387.8" r="3.4"/>
<circle cx="2267.2" cy="380.8" r="3.4"/>
<circle cx="2272.2" cy="374.2" r="3.4"/>
<circle cx="2277.7" cy="380.8" r="3.4"/>
<circle cx="2282" cy="380.8" r="3.4"/>
<circle cx="2293" cy="367.6" r="3.4"/>
<circle cx="2293" cy="374.2" r="3.4"/>
<circle cx="2247" cy="331.8" r="3.4"/>
<circle cx="2247" cy="338.8" r="3.4"/>
<circle cx="2252.3" cy="338.8" r="3.4"/>
<circle cx="2242.6" cy="345.7" r="3.4"/>
<circle cx="2293" cy="332.2" r="3.4"/>
<circle cx="2298.1" cy="352.7" r="3.4"/>
<circle cx="2272.2" cy="359.3" r="3.4"/>
<circle cx="2293" cy="359.3" r="3.4"/>
<circle cx="2302.3" cy="345.7" r="3.4"/>
<circle cx="2308" cy="318.2" r="3.4"/>
<circle cx="2308" cy="359.3" r="3.4"/>
<circle cx="2317.4" cy="352.7" r="3.4"/>
<circle cx="2317.4" cy="359.3" r="3.4"/>
<circle cx="2322.7" cy="311.6" r="3.4"/>
<circle cx="2322.7" cy="318.2" r="3.4"/>
<circle cx="2322.7" cy="338.8" r="3.4"/>
<circle cx="2322.7" cy="359.3" r="3.4"/>
<circle cx="2332.2" cy="325.2" r="3.4"/>
<circle cx="2332.2" cy="332.2" r="3.4"/>
<circle cx="2332.2" cy="338.8" r="3.4"/>
<circle cx="2337.5" cy="332.2" r="3.4"/>
<circle cx="2343.2" cy="332.2" r="3.4"/>
<circle cx="2348.7" cy="332.2" r="3.4"/>
<circle cx="2357.8" cy="318.2" r="3.4"/>
<circle cx="2357.8" cy="325.2" r="3.4"/>
<circle cx="2363.4" cy="325.2" r="3.4"/>
<circle cx="2363.4" cy="303.4" r="3.4"/>
<circle cx="2367.6" cy="296.4" r="3.4"/>
<circle cx="2367.6" cy="311.6" r="3.4"/>
<circle cx="2383.9" cy="311.6" r="3.4"/>
<circle cx="2388" cy="311.6" r="3.4"/>
<circle cx="2383.9" cy="318.2" r="3.4"/>
<circle cx="2388" cy="303.4" r="3.4"/>
<circle cx="2388" cy="276" r="3.4"/>
<circle cx="2390.9" cy="283.2" r="3.4"/>
<circle cx="2398.8" cy="296.4" r="3.4"/>
<circle cx="2403.2" cy="290.2" r="3.4"/>
<circle cx="2403.2" cy="283.2" r="3.4"/>
<circle cx="2408.3" cy="276" r="3.4"/>
<circle cx="2413.6" cy="290.2" r="3.4"/>
<circle cx="2413.6" cy="296.4" r="3.4"/>
<circle cx="2419.3" cy="290.2" r="3.4"/>
<circle cx="2418.9" cy="276" r="3.4"/>
<circle cx="2423.5" cy="276" r="3.4"/>
<circle cx="2434.1" cy="262.7" r="3.4"/>
<circle cx="2434.1" cy="283.2" r="3.4"/>
<circle cx="2443.9" cy="262.7" r="3.4"/>
<circle cx="2443.9" cy="276" r="3.4"/>
<circle cx="2302.8" cy="359.6" r="3.4"/>
<circle cx="2308" cy="367.6" r="3.4"/>
<circle cx="2313.3" cy="367.6" r="3.4"/>
<circle cx="2478.9" cy="213.7" r="3.4"/>
<circle cx="2499.2" cy="220.4" r="3.4"/>
<circle cx="2499.2" cy="234.2" r="3.4"/>
<circle cx="2514.3" cy="178.7" r="3.4"/>
<circle cx="2514.3" cy="207.1" r="3.4"/>
<circle cx="2523.8" cy="207.1" r="3.4"/>
<circle cx="2538.6" cy="192" r="3.4"/>
<circle cx="2544.3" cy="178.7" r="3.4"/>
<circle cx="2544.3" cy="185.7" r="3.4"/>
<circle cx="2549.4" cy="192" r="3.4"/>
<circle cx="2555.2" cy="192" r="3.4"/>
<circle cx="2564.5" cy="171.5" r="3.4"/>
<circle cx="2579.3" cy="158.4" r="3.4"/>
<circle cx="2584.6" cy="178.7" r="3.4"/>
<circle cx="2587.4" cy="151.2" r="3.4"/>
<circle cx="2594.4" cy="158.4" r="3.4"/>
<circle cx="2605.2" cy="143.3" r="3.4"/>
<circle cx="2614.7" cy="158.4" r="3.4"/>
<circle cx="2463.8" cy="248" r="3.4"/>
<circle cx="2473.3" cy="248" r="3.4"/>
<circle cx="2142.3" cy="485.3" r="3.4"/>
<circle cx="2720.4" cy="53.7" r="3.4"/>
<circle cx="2694.8" cy="87.2" r="3.4"/>
<circle cx="2664.9" cy="109" r="3.4"/>
<circle cx="2644.2" cy="123.2" r="3.4"/>
</g>
<line x1="1992.8" y1="568" x2="2722" y2="70.3" stroke="#4b8230" stroke-width="3.6" stroke-linecap="round"/>
<text class="an" x="2686.7" y="455.4" text-anchor="middle" textLength="185" lengthAdjust="spacingAndGlyphs">y = 0.99x + 1.6</text>
<text class="an" x="2686.7" y="495.4" text-anchor="middle" textLength="113.5" lengthAdjust="spacingAndGlyphs">R<tspan font-size="18" dy="-15.5">2</tspan><tspan dy="15.5"> = 0.98</tspan></text>
<text class="an" x="2686.7" y="534.5" text-anchor="middle" textLength="189" lengthAdjust="spacingAndGlyphs">Full credit only</text>
<text class="an" x="2686.7" y="573.6" text-anchor="middle" textLength="186.5" lengthAdjust="spacingAndGlyphs">27% accepted</text>
</g>
</svg></body></html>
